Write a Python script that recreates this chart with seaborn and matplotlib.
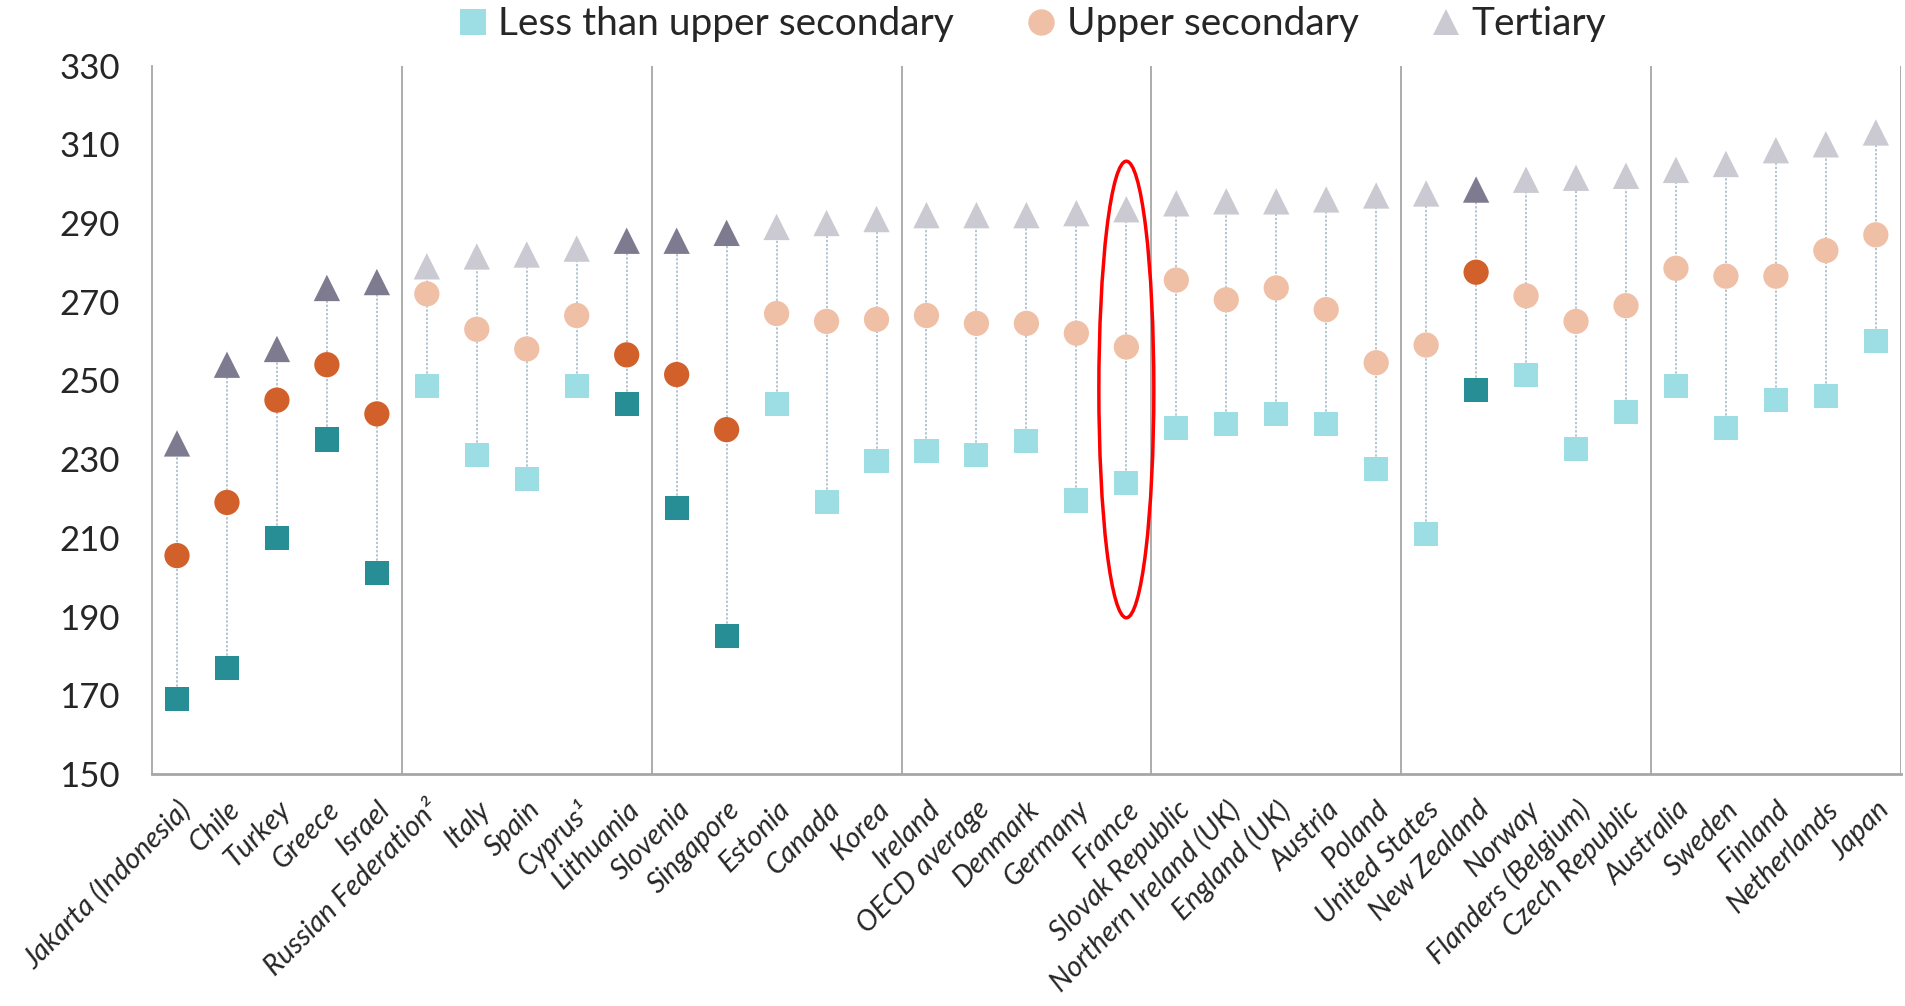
# ==========================================
# Literacy scores by educational attainment
# ==========================================

import pandas as pd
import numpy as np
import matplotlib.pyplot as plt
import seaborn as sns
from matplotlib.lines import Line2D
from matplotlib.patches import Ellipse

# ==========================================
# Data
# ==========================================

countries = [
    "Jakarta (Indonesia)", "Chile", "Turkey", "Greece", "Israel",
    "Russian Federation²", "Italy", "Spain", "Cyprus¹", "Lithuania",
    "Slovenia", "Singapore", "Estonia", "Canada", "Korea",
    "Ireland", "OECD average", "Denmark", "Germany", "France",
    "Slovak Republic", "Northern Ireland (UK)", "England (UK)", "Austria", "Poland",
    "United States", "New Zealand", "Norway", "Flanders (Belgium)", "Czech Republic",
    "Australia", "Sweden", "Finland", "Netherlands", "Japan",
]

below_upper_sec = [
    169, 177, 210, 235, 201,
    248.5, 231, 225, 248.5, 244,
    217.5, 185, 244, 219, 229.5,
    232, 231, 234.5, 219.5, 224,
    238, 239, 241.5, 239, 227.5,
    211, 247.5, 251.5, 232.5, 242,
    248.5, 238, 245, 246, 260,
]

upper_sec = [
    205.5, 219, 245, 254, 241.5,
    272, 263, 258, 266.5, 256.5,
    251.5, 237.5, 267, 265, 265.5,
    266.5, 264.5, 264.5, 262, 258.5,
    275.5, 270.5, 273.5, 268, 254.5,
    259, 277.5, 271.5, 265, 269,
    278.5, 276.5, 276.5, 283, 287,
]

tertiary = [
    234, 254, 258, 273.5, 275,
    279, 281.5, 282, 283.5, 285.5,
    285.5, 287.5, 289, 290, 291,
    292, 292, 292, 292.5, 293.5,
    295, 295.5, 295.5, 296, 297,
    297.5, 298.5, 301, 301.5, 302,
    303.5, 305, 308.5, 310, 313,
]

# countries drawn in the darker shade
highlighted = [
    "Jakarta (Indonesia)", "Chile", "Turkey", "Greece", "Israel",
    "Lithuania", "Slovenia", "Singapore", "New Zealand",
]

levels = ["Less than upper secondary", "Upper secondary", "Tertiary"]

df = pd.DataFrame({
    "country": countries * 3,
    "level": np.repeat(levels, len(countries)),
    "score": below_upper_sec + upper_sec + tertiary,
})
df["dark"] = df["country"].isin(highlighted)

# ==========================================
# Style
# ==========================================

sns.set_style("white")
plt.rcParams["font.family"] = ["Lato", "DejaVu Sans"]

light = {"Less than upper secondary": "#9CDEE4",
         "Upper secondary": "#EFBFA6",
         "Tertiary": "#CBCAD2"}
dark = {"Less than upper secondary": "#278E96",
        "Upper secondary": "#D2602A",
        "Tertiary": "#7E7B90"}
markers = {"Less than upper secondary": "s",
           "Upper secondary": "o",
           "Tertiary": "^"}
sizes = {"Less than upper secondary": 300,
         "Upper secondary": 330,
         "Tertiary": 360}

fig = plt.figure(figsize=(19.05, 10.06), dpi=100)
ax = fig.add_axes([0.0798, 0.2306, 0.918, 0.7042])

# ==========================================
# Connecting dotted lines
# ==========================================

x_pos = np.arange(len(countries))
ax.vlines(x_pos, below_upper_sec, tertiary,
          colors="#9FB6C6", linestyles=(0, (1.5, 1.2)), linewidth=1.1, zorder=1)

# ==========================================
# Markers
# ==========================================

for lvl in levels:
    sub = df[df["level"] == lvl]
    sns.scatterplot(
        data=sub, x="country", y="score",
        hue="dark", palette={False: light[lvl], True: dark[lvl]},
        marker=markers[lvl], s=sizes[lvl], linewidth=0,
        legend=False, ax=ax, zorder=3,
    )

# ==========================================
# Group separators
# ==========================================

for sep in [4.5, 9.5, 14.5, 19.5, 24.5, 29.5, 34.5]:
    ax.axvline(sep, color="#A6A6A6", linewidth=1.3, zorder=0)

# France highlight
ax.add_patch(Ellipse((countries.index("France"), 247.7), width=1.1, height=116,
                     fill=False, edgecolor="red", linewidth=2.5, zorder=4))

# ==========================================
# Axes
# ==========================================

ax.set_xlim(-0.5, len(countries) - 0.5)
ax.set_ylim(150, 330)
ax.set_yticks(range(150, 331, 20))
ax.set_xticks(x_pos)
ax.set_xticklabels(countries, rotation=45, ha="right", rotation_mode="anchor",
                   fontsize=20.5, fontstyle="italic")
ax.set_xticks([-0.5, 4.5, 9.5, 14.5, 19.5, 24.5, 29.5, 34.5], minor=True)
ax.tick_params(axis="x", which="major", length=0, pad=16)
ax.tick_params(axis="x", which="minor", length=9, width=1.2, color="#A6A6A6")
ax.tick_params(axis="y", length=9, width=1.2, color="#A6A6A6", labelsize=25, pad=14)
ax.set_xlabel("")
ax.set_ylabel("")

for side in ["top", "right"]:
    ax.spines[side].set_visible(False)
ax.spines["left"].set_color("#A6A6A6")
ax.spines["left"].set_linewidth(1.3)
ax.spines["bottom"].set_color("#A6A6A6")
ax.spines["bottom"].set_linewidth(2)

# ==========================================
# Legend
# ==========================================

handles = [
    Line2D([], [], linestyle="", marker=markers[lvl], markersize=19,
           markerfacecolor=light[lvl], markeredgewidth=0, label=lvl)
    for lvl in levels
]
fig.legend(handles=handles, loc="center", bbox_to_anchor=(0.541, 0.976),
           ncol=3, frameon=False, fontsize=28, handletextpad=0.2,
           columnspacing=1.8, handlelength=0.9)

plt.savefig("out.png", dpi=100)
